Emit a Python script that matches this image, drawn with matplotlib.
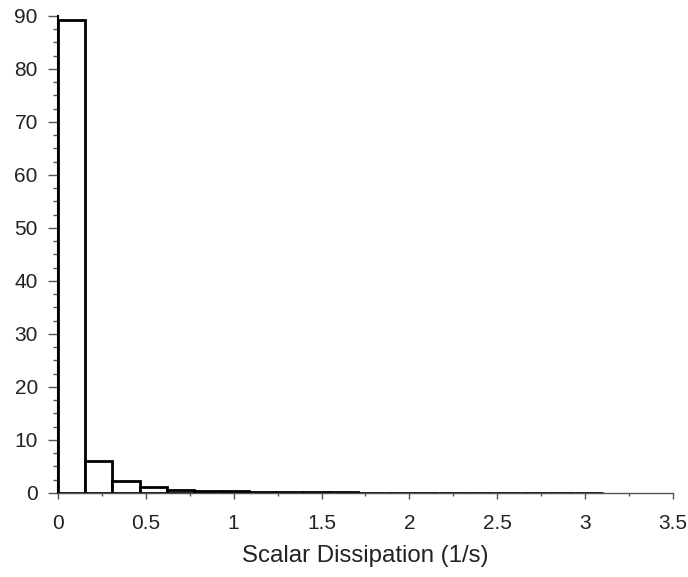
import matplotlib
matplotlib.use("Agg")
import matplotlib.pyplot as plt
from matplotlib.ticker import MultipleLocator
import numpy as np

plt.rcParams['font.family'] = ['Liberation Sans', 'DejaVu Sans']

# histogram of scalar dissipation, 20 bins from 0 to 3.1
bin_width = 0.155
bin_left = np.arange(20) * bin_width
percent = [89.2, 6.0, 2.2, 1.1, 0.65, 0.4, 0.35, 0.22, 0.2, 0.2, 0.18,
           0.06, 0.05, 0.05, 0.05, 0.05, 0.04, 0.04, 0.04, 0.04]
xtick_labels = ['0', '0.5', '1', '1.5', '2', '2.5', '3', '3.5']

fig = plt.figure(figsize=(6.88, 5.77), dpi=100)
ax = fig.add_axes([0.0843, 0.1456, 0.8937, 0.8267])

ax.bar(bin_left, percent, width=bin_width, align='edge',
       facecolor='white', edgecolor='black', linewidth=2.0)

ax.set_xlim(0, 3.5)
ax.set_ylim(0, 90)
ax.set_xticks(np.arange(len(xtick_labels)) * 0.5)
ax.set_xticklabels(xtick_labels)
ax.xaxis.set_minor_locator(MultipleLocator(0.25))
ax.yaxis.set_major_locator(MultipleLocator(10))
ax.yaxis.set_minor_locator(MultipleLocator(2.5))

for s in ['top', 'right']:
    ax.spines[s].set_visible(False)
ax.spines['left'].set_color('black')
ax.spines['left'].set_linewidth(1.5)
ax.spines['bottom'].set_color('#555555')
ax.spines['bottom'].set_linewidth(1.0)

ax.tick_params(axis='both', which='both', direction='out', width=1,
               color='#555555', labelsize=15, labelcolor='#222222')
ax.tick_params(axis='y', which='major', length=7.5, pad=7)
ax.tick_params(axis='y', which='minor', length=3.8)
ax.tick_params(axis='x', which='major', length=4.5, pad=10.5)
ax.tick_params(axis='x', which='minor', length=2.5)

ax.set_xlabel('Scalar Dissipation (1/s)', fontsize=17.3, color='#222222',
              labelpad=9)

fig.savefig('out.png', dpi=100)
